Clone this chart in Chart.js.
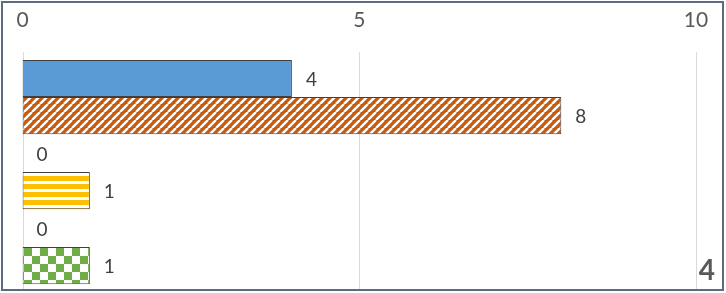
<!DOCTYPE html>
<html>
<head>
<meta charset="utf-8">
<script src="https://cdn.jsdelivr.net/npm/chart.js@4"></script>
<style>
    html, body { margin: 0; padding: 0; background: #fff; }
    #wrap { width: 726px; height: 293px; }
</style>
</head>
<body>
<div id="wrap"><canvas id="chart" width="726" height="293"></canvas></div>
<script>
// Chart values
const categories = ['A', 'B', 'C'];
const seriesOne = [4, 0, 0];
const seriesTwo = [8, 1, 1];
const xTicks = [0, 5, 10];
const panelLabel = '4';

const FONT = 'Lato, "Open Sans", sans-serif';

// Build a small repeating pattern tile
function makePattern(size, paint) {
    const c = document.createElement('canvas');
    c.width = size;
    c.height = size;
    const g = c.getContext('2d');
    paint(g, size);
    return g.createPattern(c, 'repeat');
}

const ctx = document.getElementById('chart').getContext('2d');

const diagOrange = makePattern(8, (g, s) => {
    g.fillStyle = '#C55A11';
    g.fillRect(0, 0, s, s);
    g.strokeStyle = '#ffffff';
    g.lineWidth = 2.4;
    g.beginPath();
    for (let k = -s; k <= 2 * s; k += s) {
        g.moveTo(k, s);
        g.lineTo(k + s, 0);
    }
    g.stroke();
});

const stripeYellow = makePattern(8, (g, s) => {
    g.fillStyle = '#FFC000';
    g.fillRect(0, 0, s, s);
    g.fillStyle = '#ffffff';
    g.fillRect(0, 5, s, 3);
});

const checkGreen = makePattern(16, (g, s) => {
    g.fillStyle = '#ffffff';
    g.fillRect(0, 0, s, s);
    g.fillStyle = '#70AD47';
    g.fillRect(0, 0, 8, 8);
    g.fillRect(8, 8, 8, 8);
});

// Gridlines spanning a bit above the bars, like the original plot area
const gridPlugin = {
    id: 'gridLines',
    beforeDatasetsDraw(chart) {
        const x = chart.scales.x;
        const c = chart.ctx;
        c.save();
        c.strokeStyle = '#D9D9D9';
        c.lineWidth = 1;
        xTicks.forEach(t => {
            const px = Math.round(x.getPixelForValue(t)) + 0.5;
            c.beginPath();
            c.moveTo(px, 52);
            c.lineTo(px, 290);
            c.stroke();
        });
        c.restore();
    }
};

// Value labels just past each bar end, frame and the panel number
const labelPlugin = {
    id: 'valueLabels',
    afterDatasetsDraw(chart) {
        const c = chart.ctx;
        c.save();
        c.font = '19px ' + FONT;
        c.fillStyle = '#404040';
        c.textBaseline = 'middle';
        c.textAlign = 'left';
        chart.data.datasets.forEach((ds, i) => {
            chart.getDatasetMeta(i).data.forEach((bar, j) => {
                c.fillText(String(ds.data[j]), bar.x + 14, bar.y + 1.5);
            });
        });
        c.font = 'bold 28px ' + FONT;
        c.fillStyle = '#595959';
        c.textAlign = 'right';
        c.textBaseline = 'alphabetic';
        c.fillText(panelLabel, 715, 280);
        c.strokeStyle = '#5B6B80';
        c.lineWidth = 2;
        c.strokeRect(2, 2, 721, 288);
        c.restore();
    }
};

new Chart(ctx, {
    type: 'bar',
    data: {
        labels: categories,
        datasets: [
            {
                data: seriesOne,
                backgroundColor: '#5B9BD5',
                borderColor: '#404040',
                borderWidth: 1,
                borderSkipped: false,
            },
            {
                data: seriesTwo,
                backgroundColor: [diagOrange, stripeYellow, checkGreen],
                borderColor: '#404040',
                borderWidth: 1,
                borderSkipped: false,
            }
        ]
    },
    options: {
        indexAxis: 'y',
        responsive: false,
        animation: false,
        events: [],
        layout: { padding: { left: 22.5, right: 30, top: 0, bottom: 8.5 } },
        datasets: { bar: { categoryPercentage: 0.99, barPercentage: 1 } },
        plugins: { legend: { display: false }, tooltip: { enabled: false } },
        scales: {
            x: {
                position: 'top',
                min: 0,
                max: 10,
                afterBuildTicks: (scale) => { scale.ticks = xTicks.map(v => ({ value: v })); },
                afterFit: (scale) => {
                    scale.height = 59.5;
                    scale.paddingLeft = 0;
                    scale.paddingRight = 0;
                },
                grid: { display: false, drawTicks: false },
                border: { display: false },
                ticks: {
                    padding: 27,
                    color: '#595959',
                    font: { family: FONT, size: 21 },
                },
            },
            y: {
                display: false,
            }
        }
    },
    plugins: [gridPlugin, labelPlugin]
});
</script>
</body>
</html>
